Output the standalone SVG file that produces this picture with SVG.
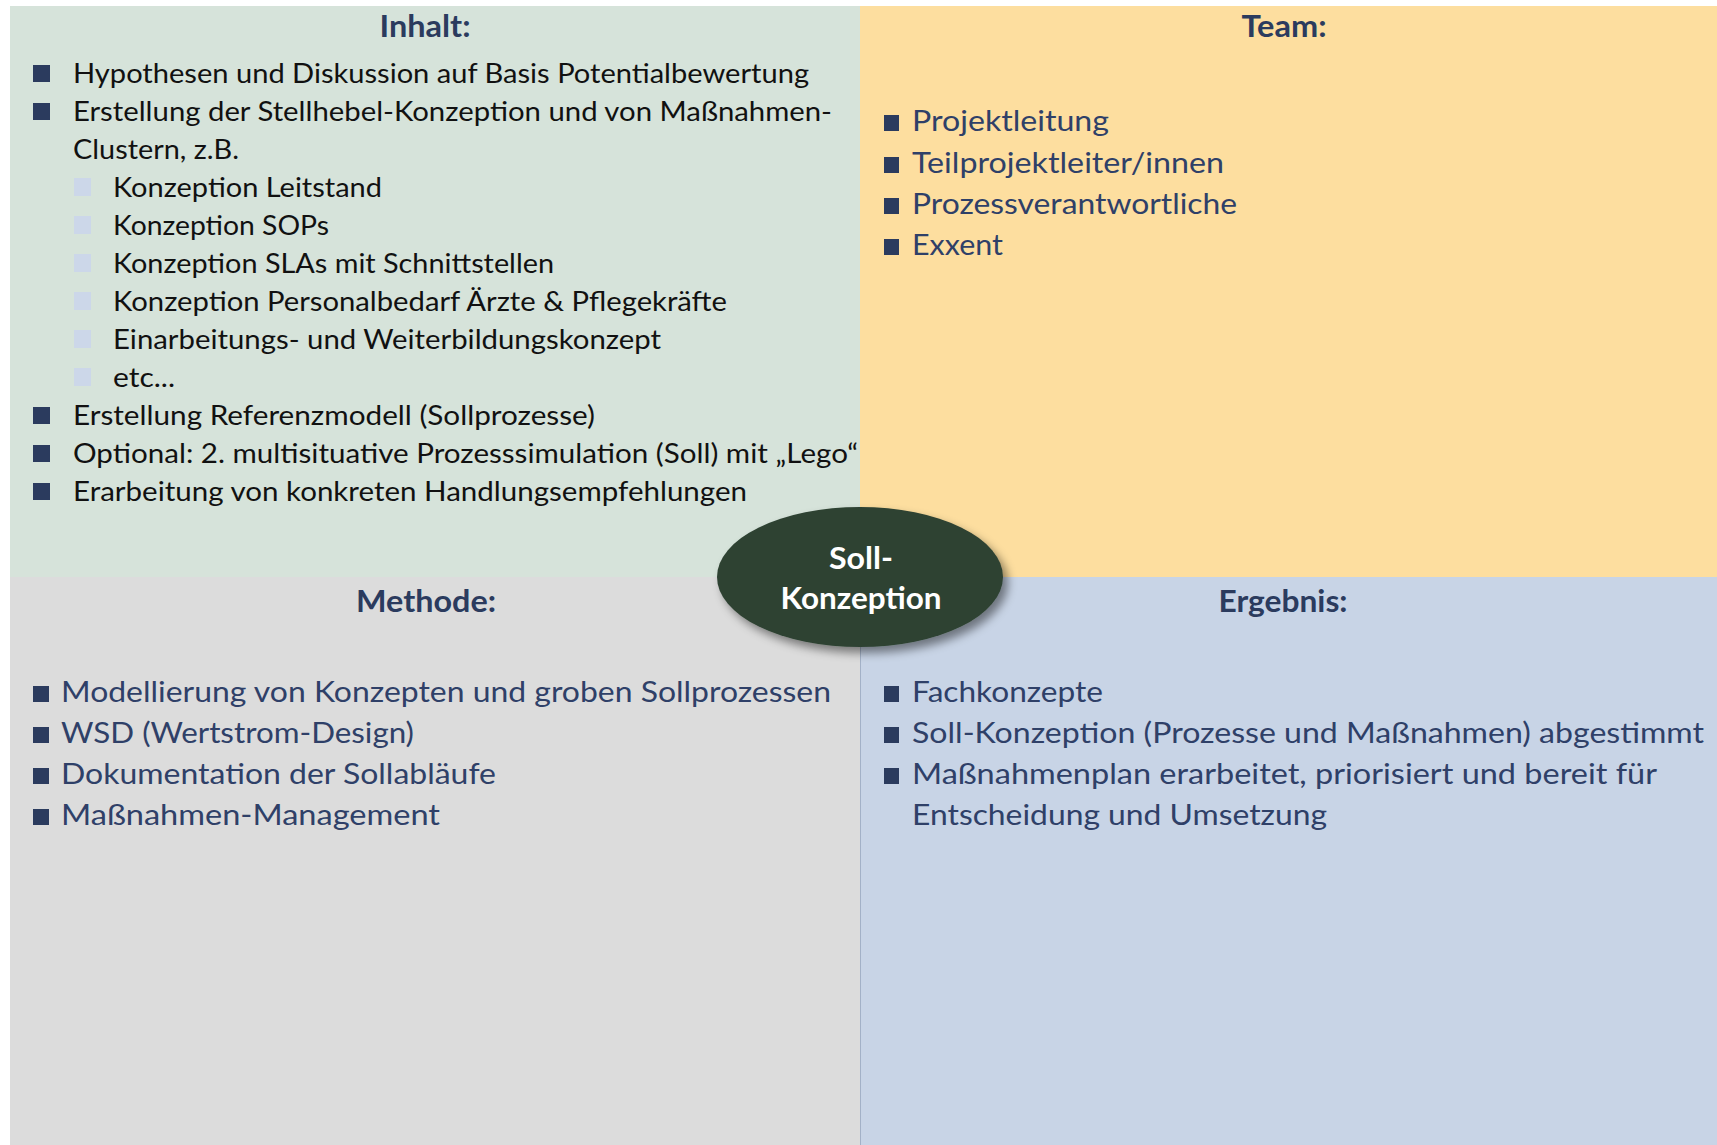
<svg xmlns="http://www.w3.org/2000/svg" width="1717" height="1145" viewBox="0 0 1717 1145">
<style>
text{font-family:Lato,"Liberation Sans",sans-serif}
.hd{font-size:30px;font-weight:bold;fill:#2B3B5E;text-anchor:middle}
.tb{font-size:26px;fill:#111}
.tn{font-size:28px;fill:#2F4068}
.bm{fill:#2B3B5E}
.bs{fill:#CCD7E9}
.el{font-size:30px;font-weight:bold;fill:#FFFFFF;text-anchor:middle}
</style>
<defs>
<filter id="sh" x="-20%" y="-30%" width="150%" height="170%">
<feDropShadow dx="5" dy="6" stdDeviation="5" flood-color="#000" flood-opacity="0.45"/>
</filter>
</defs>
<rect width="1717" height="1145" fill="#FFFFFF"/>
<g id="inhalt">
<rect x="10" y="6" width="850" height="571" fill="#D6E3DA"/>
<text class="hd" x="425" y="37" textLength="91" lengthAdjust="spacingAndGlyphs">Inhalt:</text>
<rect class="bm" x="33" y="65" width="17" height="17"/>
<text class="tb" x="73" y="83" textLength="736" lengthAdjust="spacingAndGlyphs">Hypothesen und Diskussion auf Basis Potentialbewertung</text>
<rect class="bm" x="33" y="103" width="17" height="17"/>
<text class="tb" x="73" y="121" textLength="759" lengthAdjust="spacingAndGlyphs">Erstellung der Stellhebel-Konzeption und von Maßnahmen-</text>
<text class="tb" x="73" y="159" textLength="166" lengthAdjust="spacingAndGlyphs">Clustern, z.B.</text>
<rect class="bs" x="74" y="178" width="17" height="18"/>
<text class="tb" x="113" y="197" textLength="269" lengthAdjust="spacingAndGlyphs">Konzeption Leitstand</text>
<rect class="bs" x="74" y="216" width="17" height="18"/>
<text class="tb" x="113" y="235" textLength="216" lengthAdjust="spacingAndGlyphs">Konzeption SOPs</text>
<rect class="bs" x="74" y="254" width="17" height="18"/>
<text class="tb" x="113" y="273" textLength="441" lengthAdjust="spacingAndGlyphs">Konzeption SLAs mit Schnittstellen</text>
<rect class="bs" x="74" y="292" width="17" height="18"/>
<text class="tb" x="113" y="311" textLength="614" lengthAdjust="spacingAndGlyphs">Konzeption Personalbedarf Ärzte &amp; Pflegekräfte</text>
<rect class="bs" x="74" y="330" width="17" height="18"/>
<text class="tb" x="113" y="349" textLength="548" lengthAdjust="spacingAndGlyphs">Einarbeitungs- und Weiterbildungskonzept</text>
<rect class="bs" x="74" y="368" width="17" height="18"/>
<text class="tb" x="113" y="387" textLength="62" lengthAdjust="spacingAndGlyphs">etc...</text>
<rect class="bm" x="33" y="407" width="17" height="17"/>
<text class="tb" x="73" y="425" textLength="522" lengthAdjust="spacingAndGlyphs">Erstellung Referenzmodell (Sollprozesse)</text>
<rect class="bm" x="33" y="445" width="17" height="17"/>
<text class="tb" x="73" y="463" textLength="785" lengthAdjust="spacingAndGlyphs">Optional: 2. multisituative Prozesssimulation (Soll) mit „Lego“</text>
<rect class="bm" x="33" y="483" width="17" height="17"/>
<text class="tb" x="73" y="501" textLength="674" lengthAdjust="spacingAndGlyphs">Erarbeitung von konkreten Handlungsempfehlungen</text>
</g>
<g id="team">
<rect x="860" y="6" width="857" height="571" fill="#FDDE9F"/>
<text class="hd" x="1284" y="37" textLength="85" lengthAdjust="spacingAndGlyphs">Team:</text>
<rect class="bm" x="884" y="115" width="15" height="16"/>
<text class="tn" x="912" y="131" textLength="197" lengthAdjust="spacingAndGlyphs">Projektleitung</text>
<rect class="bm" x="884" y="157" width="15" height="16"/>
<text class="tn" x="912" y="173" textLength="312" lengthAdjust="spacingAndGlyphs">Teilprojektleiter/innen</text>
<rect class="bm" x="884" y="198" width="15" height="16"/>
<text class="tn" x="912" y="214" textLength="325" lengthAdjust="spacingAndGlyphs">Prozessverantwortliche</text>
<rect class="bm" x="884" y="239" width="15" height="16"/>
<text class="tn" x="912" y="255" textLength="91" lengthAdjust="spacingAndGlyphs">Exxent</text>
</g>
<g id="methode">
<rect x="10" y="577" width="850" height="568" fill="#DCDCDC"/>
<text class="hd" x="426" y="612" textLength="140" lengthAdjust="spacingAndGlyphs">Methode:</text>
<rect class="bm" x="33" y="686" width="16" height="16"/>
<text class="tn" x="61" y="702" textLength="770" lengthAdjust="spacingAndGlyphs">Modellierung von Konzepten und groben Sollprozessen</text>
<rect class="bm" x="33" y="727" width="16" height="16"/>
<text class="tn" x="61" y="743" textLength="353" lengthAdjust="spacingAndGlyphs">WSD (Wertstrom-Design)</text>
<rect class="bm" x="33" y="768" width="16" height="16"/>
<text class="tn" x="61" y="784" textLength="435" lengthAdjust="spacingAndGlyphs">Dokumentation der Sollabläufe</text>
<rect class="bm" x="33" y="809" width="16" height="16"/>
<text class="tn" x="61" y="825" textLength="379" lengthAdjust="spacingAndGlyphs">Maßnahmen-Management</text>
</g>
<g id="ergebnis">
<rect x="860" y="577" width="857" height="568" fill="#C8D4E6"/>
<line x1="860.5" y1="577" x2="860.5" y2="1145" stroke="#A3B1C7" stroke-width="1"/>
<text class="hd" x="1283" y="612" textLength="129" lengthAdjust="spacingAndGlyphs">Ergebnis:</text>
<rect class="bm" x="884" y="686" width="15" height="16"/>
<text class="tn" x="912" y="702" textLength="191" lengthAdjust="spacingAndGlyphs">Fachkonzepte</text>
<rect class="bm" x="884" y="727" width="15" height="16"/>
<text class="tn" x="912" y="743" textLength="792" lengthAdjust="spacingAndGlyphs">Soll-Konzeption (Prozesse und Maßnahmen) abgestimmt</text>
<rect class="bm" x="884" y="768" width="15" height="16"/>
<text class="tn" x="912" y="784" textLength="745" lengthAdjust="spacingAndGlyphs">Maßnahmenplan erarbeitet, priorisiert und bereit für</text>
<text class="tn" x="912" y="825" textLength="415" lengthAdjust="spacingAndGlyphs">Entscheidung und Umsetzung</text>
</g>
<g id="connectors"/>
<g id="soll-konzeption">
<ellipse cx="860" cy="577" rx="143" ry="70" fill="#2E4233" filter="url(#sh)"/>
<text class="el" x="861" y="569" textLength="64" lengthAdjust="spacingAndGlyphs">Soll-</text>
<text class="el" x="861" y="609" textLength="161" lengthAdjust="spacingAndGlyphs">Konzeption</text>
</g>
</svg>
